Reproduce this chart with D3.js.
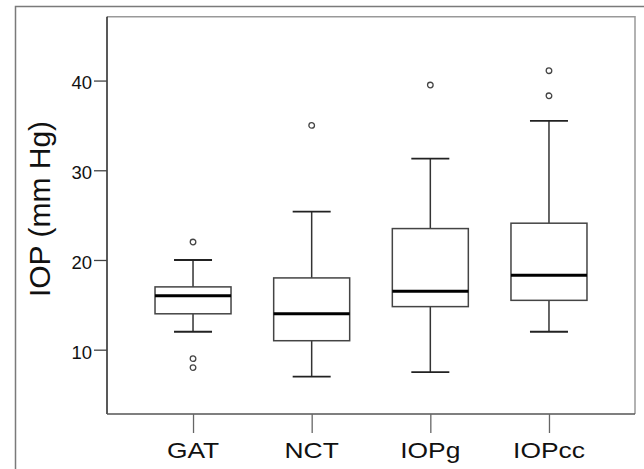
<!DOCTYPE html>
<html>
<head>
<meta charset="utf-8">
<script src="https://cdn.jsdelivr.net/npm/d3@7"></script>
<style>
  html, body { margin: 0; padding: 0; background: #fff; }
  svg { display: block; }
  text { font-family: "Liberation Sans", Arial, sans-serif; }
</style>
</head>
<body>
<svg id="chart" width="644" height="469"></svg>
<script>
// ---- Data ----
const categories = ["GAT", "NCT", "IOPg", "IOPcc"];
const q1 = [14, 11, 14.8, 15.5];
const median = [16, 14, 16.5, 18.3];
const q3 = [17, 18, 23.5, 24.1];
const whiskerLow = [12, 7, 7.5, 12];
const whiskerHigh = [20, 25.4, 31.3, 35.5];
const outliers = [[22, 9, 8], [35], [39.5], [41.1, 38.3]];
const yTicks = [10, 20, 30, 40];
const yLabel = "IOP (mm Hg)";

const boxes = categories.map((c, i) => ({
  cat: c, q1: q1[i], med: median[i], q3: q3[i],
  lo: whiskerLow[i], hi: whiskerHigh[i], out: outliers[i]
}));

// ---- Layout ----
const svg = d3.select("#chart");
const plot = { left: 107, right: 635, top: 16.7, bottom: 414 };

const x = d3.scalePoint().domain(categories)
  .range([plot.left, plot.right]).padding(0.725);
const y = d3.scaleLinear().domain([2.83, 47.12])
  .range([plot.bottom, plot.top]);

// outer frame
svg.append("rect")
  .attr("x", 15.5).attr("y", 6.5)
  .attr("width", 700).attr("height", 500)
  .attr("fill", "none").attr("stroke", "#7a7a7a").attr("stroke-width", 1.5);

// plot frame: top & right grey
svg.append("path")
  .attr("d", `M${plot.left},${plot.top}H${plot.right}V${plot.bottom}`)
  .attr("fill", "none").attr("stroke", "#999").attr("stroke-width", 1.5);

// y axis
const yAxis = d3.axisLeft(y).tickValues(yTicks).tickSize(13).tickPadding(2)
  .tickFormat(d3.format("d"));
const gy = svg.append("g").attr("transform", `translate(${plot.left},0)`).call(yAxis);
gy.select(".domain").attr("stroke", "#222").attr("stroke-width", 1.5)
  .attr("d", `M0,${plot.top}V${plot.bottom}`);
gy.selectAll(".tick line").attr("stroke", "#444").attr("stroke-width", 1.3);
gy.selectAll(".tick text")
  .attr("font-size", 18.5).attr("fill", "#111")
  .attr("font-family", "Liberation Sans, Arial, sans-serif")
  .attr("dy", "0.45em");

// x axis
const xAxis = d3.axisBottom(x).tickSize(19).tickPadding(0).tickFormat("");
const gx = svg.append("g").attr("transform", `translate(0,${plot.bottom})`).call(xAxis);
gx.select(".domain").attr("stroke", "#555").attr("stroke-width", 1.5)
  .attr("d", `M${plot.left},0H${plot.right}`);
gx.selectAll(".tick line").attr("stroke", "#666").attr("stroke-width", 1.3);

// x labels (slightly wide lettering)
svg.append("g").selectAll("text").data(categories).join("text")
  .attr("transform", d => `translate(${x(d)},458) scale(1.2,1)`)
  .attr("text-anchor", "middle")
  .attr("font-size", 22)
  .attr("fill", "#111")
  .text(d => d);

// y label
svg.append("text")
  .attr("transform", `translate(49.5,209) rotate(-90)`)
  .attr("text-anchor", "middle")
  .attr("font-size", 30)
  .attr("fill", "#111")
  .text(yLabel);

// boxes
const boxW = 76;
const capW = 38;
const g = svg.append("g").selectAll("g").data(boxes).join("g")
  .attr("transform", d => `translate(${x(d.cat)},0)`);

// whiskers
g.append("line").attr("x1", 0).attr("x2", 0)
  .attr("y1", d => y(d.hi)).attr("y2", d => y(d.q3))
  .attr("stroke", "#333").attr("stroke-width", 1.5);
g.append("line").attr("x1", 0).attr("x2", 0)
  .attr("y1", d => y(d.q1)).attr("y2", d => y(d.lo))
  .attr("stroke", "#333").attr("stroke-width", 1.5);
g.append("line").attr("x1", -capW / 2).attr("x2", capW / 2)
  .attr("y1", d => y(d.hi)).attr("y2", d => y(d.hi))
  .attr("stroke", "#222").attr("stroke-width", 1.8);
g.append("line").attr("x1", -capW / 2).attr("x2", capW / 2)
  .attr("y1", d => y(d.lo)).attr("y2", d => y(d.lo))
  .attr("stroke", "#222").attr("stroke-width", 1.8);

// box
g.append("rect")
  .attr("x", -boxW / 2).attr("width", boxW)
  .attr("y", d => y(d.q3)).attr("height", d => y(d.q1) - y(d.q3))
  .attr("fill", "#fff").attr("stroke", "#444").attr("stroke-width", 1.5);

// median
g.append("line").attr("x1", -boxW / 2).attr("x2", boxW / 2)
  .attr("y1", d => y(d.med)).attr("y2", d => y(d.med))
  .attr("stroke", "#000").attr("stroke-width", 3);

// outliers
g.selectAll("circle").data(d => d.out).join("circle")
  .attr("cx", 0).attr("cy", v => y(v)).attr("r", 2.8)
  .attr("fill", "#fff").attr("stroke", "#444").attr("stroke-width", 1.3);
</script>
</body>
</html>
